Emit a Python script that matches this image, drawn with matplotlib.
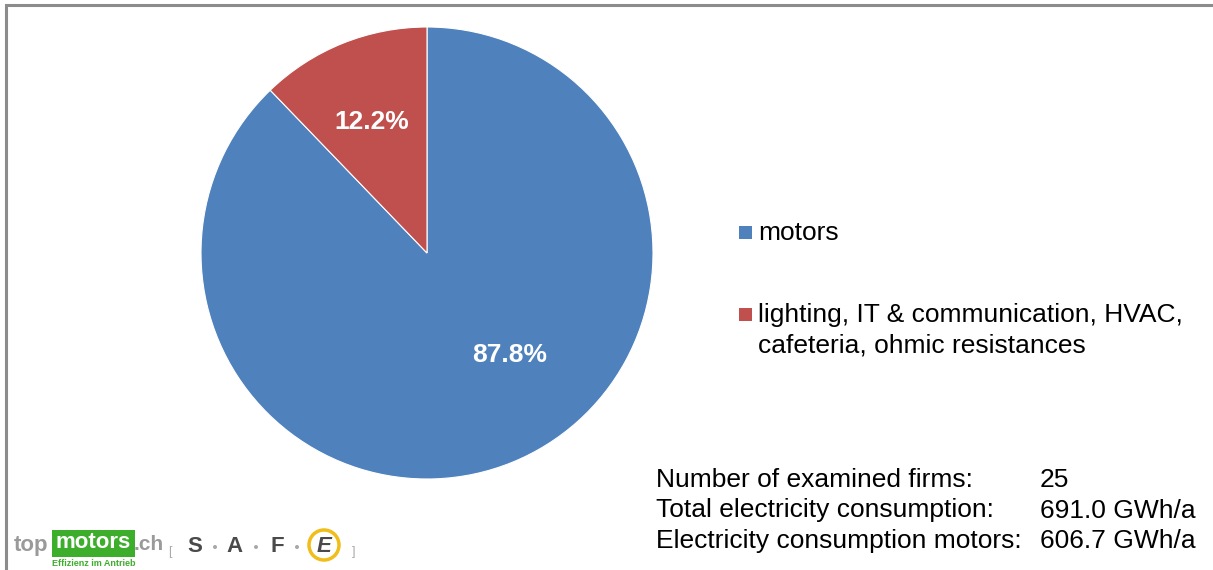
import matplotlib.pyplot as plt
from matplotlib.patches import Rectangle, Circle

# Share of electricity consumption
categories = ["motors", "lighting, IT & communication, HVAC,\ncafeteria, ohmic resistances"]
shares = [87.8, 12.2]
colors = ["#4F81BD", "#C0504D"]

stat_labels = ["Number of examined firms:", "Total electricity consumption:",
               "Electricity consumption motors:"]
stat_values = ["25", "691.0 GWh/a", "606.7 GWh/a"]

W, H = 1213, 570
plt.rcParams['font.family'] = ['Liberation Sans', 'DejaVu Sans']

fig = plt.figure(figsize=(W / 100, H / 100), dpi=100)


def fx(px):
    return px / W


def fy(py):
    return 1 - py / H


# Pie axes: centre (427, 253) px, radius 226 px
ax = fig.add_axes([fx(201), fy(253 + 226), fx(452), 452 / H])
wedges, texts, autotexts = ax.pie(
    shares, colors=colors, startangle=90, counterclock=False, radius=1,
    autopct='%.1f%%', pctdistance=0.6,
    wedgeprops=dict(edgecolor='white', linewidth=0.8),
    textprops=dict(color='white', fontsize=19, fontweight='bold'))
ax.set_xlim(-1, 1)
ax.set_ylim(-1, 1)
ax.set_aspect('equal')
ax.axis('off')
# Excel-style label placement
autotexts[0].set_position((0.365, -0.45))
autotexts[1].set_position((-0.245, 0.58))

# Legend drawn by hand so the marker sits on the first line
legend_rows = [232, 314]
for wedge, label, py in zip(wedges, categories, legend_rows):
    fig.patches.append(Rectangle((fx(739), fy(py + 7)), fx(13), 13 / H,
                                 transform=fig.transFigure,
                                 facecolor=wedge.get_facecolor(), edgecolor='none'))
    for k, line in enumerate(label.split("\n")):
        fig.text(fx(758), fy(py + 1 + k * 31), line, fontsize=19, va='center',
                 ha='left', color='black')

# Summary figures
for i, (lab, val) in enumerate(zip(stat_labels, stat_values)):
    y = fy(480 + i * 30.5)
    fig.text(fx(656), y, lab, fontsize=19, va='center', ha='left')
    fig.text(fx(1040), y, val, fontsize=19, va='center', ha='left')

# Chart frame (top and left edges visible)
fig.patches.append(Rectangle((fx(6), fy(H + 10)), fx(W + 20), (H + 5) / H,
                             transform=fig.transFigure, fill=False,
                             edgecolor='#8c8c8c', linewidth=2.2))

# Logos: topmotors.ch and S.A.F.E.
fig.text(fx(14), fy(545), "top", fontsize=16, fontweight='bold', color='#9a9a9a',
         va='center', ha='left')
fig.patches.append(Rectangle((fx(52), fy(557)), fx(83), 27 / H,
                             transform=fig.transFigure, facecolor='#3dae2b',
                             edgecolor='none'))
fig.text(fx(93), fy(543), "motors", fontsize=16, fontweight='bold', color='white',
         va='center', ha='center')
fig.text(fx(134), fy(545), ".ch", fontsize=15, fontweight='bold', color='#9a9a9a',
         va='center', ha='left')
fig.text(fx(94), fy(564), "Effizienz im Antrieb", fontsize=6.5, fontweight='bold',
         color='#3dae2b', va='center', ha='center')
fig.text(fx(170), fy(552), "[", fontsize=9, color='#aaaaaa', va='center', ha='center')
fig.text(fx(354), fy(552), "]", fontsize=9, color='#aaaaaa', va='center', ha='center')
for px, ch in zip([195, 235, 277], ["S", "A", "F"]):
    fig.text(fx(px), fy(546), ch, fontsize=16, fontweight='heavy', color='#4a4a4a',
             va='center', ha='center')
for px in [215, 256, 297]:
    fig.patches.append(Circle((px / 100, (H - 547) / 100), 0.02,
                              transform=fig.dpi_scale_trans,
                              facecolor='#a8a8a8', edgecolor='none'))
fig.patches.append(Circle((324 / 100, (H - 545) / 100), 0.15,
                          transform=fig.dpi_scale_trans, fill=False,
                          edgecolor='#f0bd1a', linewidth=2.5))
fig.text(fx(324), fy(546), "E", fontsize=16, fontweight='heavy', fontstyle='italic',
         color='#4a4a4a', va='center', ha='center')

fig.savefig('out.png', dpi=100)
